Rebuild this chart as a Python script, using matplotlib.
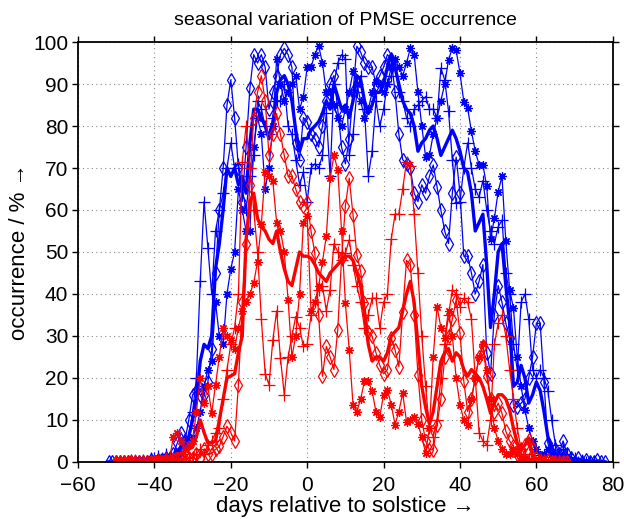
import numpy as np
import matplotlib
matplotlib.use("Agg")
import matplotlib.pyplot as plt

plt.rcParams['font.family'] = ['Liberation Sans', 'DejaVu Sans']

# blue group: first day -52 (diamond, mean), -50 (plus, star)
blue_diamond = [0, 0, 0, 0, 0, 0, 0, 0, 0, 0, 0, 0.5, 0,
                0.5, 0.5, 1, 1, 2, 4.5, 7, 5, 10, 16,
                17, 16, 16, 19, 27, 45, 60, 70, 85, 91,
                82, 70, 62, 75, 89, 97, 95, 97, 94, 84,
                88, 92, 97, 98.5, 97, 94, 76, 72, 82, 81,
                78, 77, 75, 80, 86, 90, 92, 84, 75, 71,
                77, 88, 99, 97.6, 95, 94, 94, 90, 92, 94,
                97, 96, 88, 78, 72, 71, 70, 64, 62, 66,
                64, 68, 70.7, 65.5, 60, 55, 52, 64, 72.6, 64,
                49, 49, 45, 40, 43, 47, 26, 21, 35, 42,
                38, 33, 29.5, 13.6, 13, 14, 15, 20, 25, 33,
                33, 19, 4.5, 2, 3, 2, 5, 2, 1, 0,
                1, 0, 0.5, 0, 0, 0.5, 0, 0]
blue_plus = [0, 0, 0, 0, 0.5, 0, 0, 0.5, 0, 1,
             1, 1.5, 1, 2, 1, 1, 2, 3, 4, 6,
             12, 20, 43, 62, 51, 40, 55, 60, 64, 70,
             76, 70, 71, 65, 60, 68, 73, 86, 84, 80,
             78, 82, 86, 86, 90, 80, 78, 72, 66, 69,
             62, 70, 71, 70, 73, 83, 68, 90, 95, 97,
             96, 73, 78, 88, 92, 84, 68, 74, 86, 80,
             84, 90, 92, 94, 88, 86, 82, 80, 84, 85,
             86, 87, 84, 84, 82, 93.8, 91, 83.5, 72, 61.6,
             62, 70, 76, 70, 65, 63, 67, 60, 55, 52,
             56, 57.6, 45, 40, 28, 22, 38, 40, 34, 22,
             20, 22, 20, 17, 10, 4, 2, 3, 2, 1,
             1, 0, 0.5, 0, 0, 0]
blue_star = [0, 0, 0, 0, 0, 0, 0.5, 0, 0, 0.5,
             0.5, 1, 0.5, 1, 1, 1, 2, 2, 3, 4,
             6, 8, 12, 18, 22, 24, 38, 30, 28, 40,
             46, 50, 65, 60, 55, 55, 75, 82, 78, 65,
             70, 80, 96, 90, 86, 88, 90, 92, 84, 87,
             94, 94, 97, 99, 95, 88, 88, 85, 82, 80,
             84, 88, 93, 90, 86, 82, 84, 88, 90.6, 90,
             88, 90, 94, 96, 94, 92, 95, 98.5, 97, 88,
             80, 72.7, 73, 78, 82, 86, 90, 95.8, 98.5, 98,
             92.6, 85.8, 84.3, 78.7, 74, 70.8, 70.8, 65.6, 53, 58,
             64.4, 68, 52.5, 41, 36.6, 25, 18, 12.4, 8, 5,
             3, 1.7, 2, 3, 2, 1, 1, 0.5, 0, 0.5,
             0, 0, 0]
blue_mean = [0, 0, 0, 0, 0, 0, 0, 0, 0, 0.2, 0.2, 0.3, 0.3,
             0.3, 0.5, 0.8, 1, 1.5, 2.5, 3.5, 4, 6, 10,
             15, 24, 28, 27, 30, 46, 52, 60, 70, 68,
             70, 66, 68, 64, 76, 84, 84, 82, 80, 77,
             80, 88, 91, 92, 90, 86, 79, 74, 77, 77,
             79, 80, 81, 83, 86, 84, 90, 87, 84, 85,
             82, 86, 92, 91, 86, 83, 85, 88, 88, 90,
             94, 97, 94, 90, 86, 84, 83, 80, 74, 76,
             77, 79, 80, 77, 73, 75, 77, 79, 77, 74,
             70, 69, 64, 55, 57, 59, 47, 32, 40, 50,
             52, 42, 33, 18, 19, 23, 20, 14, 16, 19,
             17, 12, 6, 3.5, 2, 1.5, 2, 1.5, 0.7, 0.5,
             0.5, 0.3, 0.3, 0.2, 0.2, 0.1, 0, 0]

# red group: first day -50
red_diamond = [0, 0, 0, 0, 0, 0, 0, 0, 0, 0,
               0, 0, 0, 0.5, 0, 0, 0, 1, 0, 1,
               1, 2, 1, 3, 2, 2, 3, 3.7, 6, 8.5,
               7, 5, 18.4, 38, 52, 66, 82, 88, 92, 86,
               73, 78, 83, 78, 73, 68, 68, 65, 62, 61,
               62, 55, 49.7, 35, 20.4, 27.5, 25, 22, 31.5, 48.5,
               61, 67.6, 58.8, 49.3, 45.4, 37.8, 31, 30, 26, 23,
               21, 22, 29.5, 26.7, 22.7, 35.8, 48, 47, 35, 20.8,
               10, 5, 2.9, 2.9, 8.9, 15, 25, 30, 34, 38.6,
               30.7, 19.2, 12, 15, 20, 25, 27.5, 20.4, 15, 12,
               14, 11.6, 7.3, 5, 3.7, 2, 3, 4, 5.3, 3,
               1, 0.5, 0, 0.5, 0, 0, 0, 0, 0]
red_plus = [0, 0, 0, 0, 0, 0.5, 0, 0, 0, 0,
            0, 0.5, 0, 1, 0, 1, 0.5, 1, 2, 1,
            1, 2, 3, 2, 4, 5, 6.9, 8, 15, 22,
            28, 32, 40, 71.5, 80, 70, 60, 50, 34, 21,
            18.4, 29, 36, 24.7, 16, 25, 30, 34.6, 32, 27.5,
            28, 35, 38, 41, 42, 36, 41, 52, 50, 48,
            49.7, 52.9, 47, 42, 38, 32, 35, 39, 39, 32,
            38, 40, 53, 59, 59, 65, 71.5, 70.4, 59, 45,
            30, 18, 8, 6, 10, 20, 28, 35, 41, 40,
            37, 39, 38, 34, 20, 7, 5, 4, 10, 28,
            33, 35, 30, 22, 15, 8, 3, 2, 1, 0.5,
            0, 0, 0.5, 0, 0, 0, 0, 0, 0]
red_star = [0, 0, 0, 0, 0.5, 0, 0, 0, 0, 0.5,
            0, 1, 0.5, 1, 1, 6, 7, 5, 3, 4,
            5, 12, 20, 14, 18, 11.6, 18.4, 25, 32, 30,
            29, 27, 32, 36, 38, 40, 42.6, 47.7, 56.7, 69,
            68, 67, 57, 55, 50, 38.6, 25, 30, 40, 57,
            58.5, 36, 38, 41.8, 47.7, 53.7, 67.6, 73, 69.6, 55,
            37.8, 26.7, 13.6, 12, 15, 19.2, 19.2, 16.8, 12, 10.8,
            16, 17.2, 13.6, 8.9, 12, 16.4, 9.6, 10, 10.8, 9,
            6, 2.1, 8, 25, 37, 32, 29.5, 36, 30, 20,
            13.6, 10, 8.9, 15, 20, 25, 28, 22, 15, 8,
            5, 3, 2, 2, 3, 2, 1, 1, 0.5, 0,
            0, 0.5, 0, 0, 0, 0, 0, 0, 0]
red_mean = [0, 0, 0, 0, 0.2, 0.2, 0, 0, 0, 0.2,
            0.2, 0.5, 0.5, 0.5, 0.7, 1.5, 2, 2, 2.5, 3,
            3.5, 6, 10, 7, 4.5, 4.5, 5, 10, 15, 20,
            20.5, 21, 26, 30, 53, 62, 64, 58, 56, 55,
            53, 52, 55, 50, 46, 43, 42, 46, 50, 49,
            49, 48.5, 47, 45, 44, 43, 45, 46, 47, 48,
            49, 49, 48, 45, 42, 35, 28, 24, 25, 25,
            24, 26, 30, 31, 32, 36, 40, 43, 38, 28,
            18, 13, 9, 12, 18, 24, 26, 27, 24, 26,
            25, 22, 20.4, 22, 21, 20, 18, 15, 11.6, 14,
            16, 16, 15, 12.4, 8, 4.5, 2.9, 4, 5.7, 1.3,
            0.5, 0.3, 0.2, 0, 0, 0, 0, 0, 0]

def days(first, vals):
    return np.arange(first, first + len(vals))

fig = plt.figure(figsize=(6.24, 5.19), dpi=100)
ax = fig.add_axes([0.125, 0.110, 0.857, 0.809])

thin = dict(lw=0.9, mfc='none', mew=0.9)
asterisk = (8, 2, 0)   # matlab style '*'
ax.plot(days(-52, blue_diamond), blue_diamond, color='#0000ff', marker='d', ms=7, **thin)
ax.plot(days(-50, blue_plus), blue_plus, color='#0000ff', marker='+', ms=8, **thin)
ax.plot(days(-50, blue_star), blue_star, color='#0000ff', marker=asterisk, ms=6, **thin)
ax.plot(days(-52, blue_mean), blue_mean, color='#0000ff', lw=2.4)

ax.plot(days(-50, red_diamond), red_diamond, color='#ff0000', marker='d', ms=7, **thin)
ax.plot(days(-50, red_plus), red_plus, color='#ff0000', marker='+', ms=8, **thin)
ax.plot(days(-50, red_star), red_star, color='#ff0000', marker=asterisk, ms=6, **thin)
ax.plot(days(-50, red_mean), red_mean, color='#ff0000', lw=2.4)

ax.set_xlim(-60, 80)
ax.set_ylim(0, 100)
ax.set_xticks(np.arange(-60, 81, 20))
ax.set_yticks(np.arange(0, 101, 10))
ax.grid(True, color='#888888', linestyle=(0, (1, 3)), linewidth=0.8)
ax.tick_params(direction='out', length=4, width=1, labelsize=15,
               top=True, right=True, pad=3)
ax.tick_params(axis='x', pad=6)
for s in ax.spines.values():
    s.set_linewidth(1.3)

ax.set_title('seasonal variation of PMSE occurrence', fontsize=14, pad=12)
ax.set_xlabel('days relative to solstice \u2192', fontsize=16, labelpad=1)
ax.set_ylabel('occurrence / % \u2192', fontsize=16, labelpad=2)

fig.savefig('out.png', dpi=100)
